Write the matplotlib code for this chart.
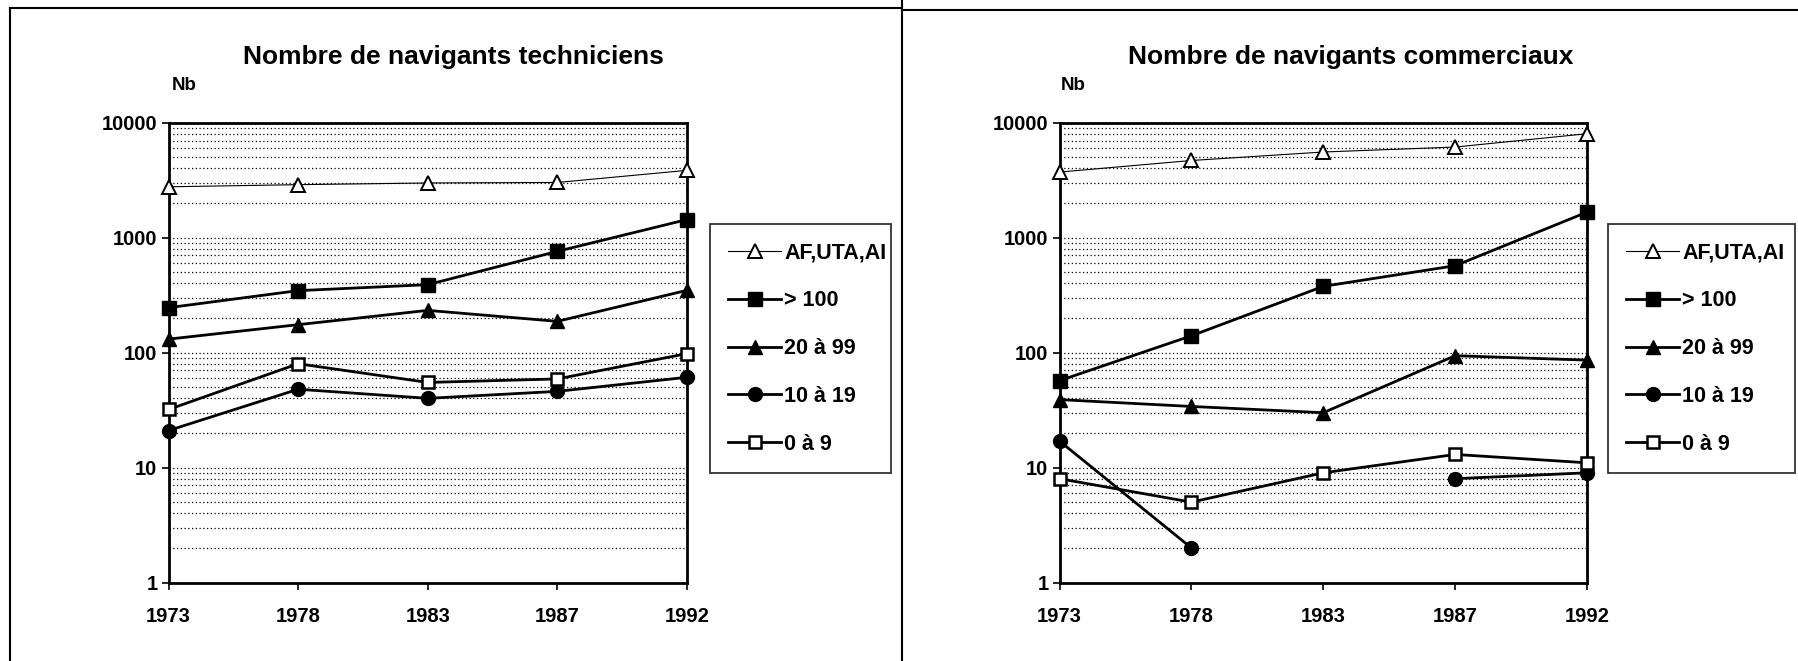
import numpy as np
import matplotlib
matplotlib.use("Agg")
import matplotlib.pyplot as plt
from matplotlib.ticker import FixedLocator, LogLocator, NullFormatter, FuncFormatter
from matplotlib.lines import Line2D

plt.rcParams['font.family'] = ['Liberation Sans', 'DejaVu Sans']
plt.rcParams['font.weight'] = 'bold'

years = ["1973", "1978", "1983", "1987", "1992"]
series_names = ["AF,UTA,AI", "> 100", "20 à 99", "10 à 19", "0 à 9"]
y_ticks = [1, 10, 100, 1000, 10000]

# Navigants techniciens
tech_af = [2770, 2890, 2990, 3020, 3850]
tech_100 = [246, 346, 390, 760, 1436]
tech_20_99 = [131, 175, 233, 187, 348]
tech_10_19 = [21, 48, 40, 46, 61]
tech_0_9 = [32, 80, 55, 59, 98]

# Navigants commerciaux
comm_af = [3720, 4690, 5560, 6140, 8020]
comm_100 = [57, 140, 377, 570, 1667]
comm_20_99 = [39, 34, 30, 94, 86]
comm_10_19 = [17, 2, np.nan, 8, 9]
comm_0_9 = [8, 5, 9, 13, 11]

W, H = 1798, 661
fig = plt.figure(figsize=(W / 100, H / 100), dpi=100)

styles = [
    dict(marker='^', markerfacecolor='white', markeredgecolor='black', markeredgewidth=1.4,
         markersize=10, linewidth=0.8, color='black'),
    dict(marker='s', markerfacecolor='black', markeredgecolor='black', markersize=10,
         linewidth=2.0, color='black'),
    dict(marker='^', markerfacecolor='black', markeredgecolor='black', markersize=10,
         linewidth=2.0, color='black'),
    dict(marker='o', markerfacecolor='black', markeredgecolor='black', markersize=10,
         linewidth=2.0, color='black'),
    dict(marker='s', markerfacecolor='white', markeredgecolor='black', markeredgewidth=1.8,
         markersize=9, linewidth=2.0, color='black'),
]


def px_box(x0, y0, x1, y1):
    return [x0 / W, 1 - y1 / H, (x1 - x0) / W, (y1 - y0) / H]


def panel(box, title, title_x, nb_x, data, legend_box):
    ax = fig.add_axes(px_box(*box))
    x = np.arange(len(years))
    lines = []
    for vals, st, name in zip(data, styles, series_names):
        ln, = ax.plot(x, vals, label=name, clip_on=False, zorder=3, **st)
        lines.append(ln)
    ax.set_yscale('log')
    ax.set_ylim(1, 10000)
    ax.set_xlim(0, len(years) - 1)
    ax.yaxis.set_major_locator(FixedLocator(y_ticks))
    ax.yaxis.set_major_formatter(FuncFormatter(lambda v, p: f"{int(round(v))}"))
    ax.yaxis.set_minor_locator(LogLocator(base=10, subs=np.arange(2, 10)))
    ax.yaxis.set_minor_formatter(NullFormatter())
    ax.set_xticks(x)
    ax.set_xticklabels(years)
    ax.tick_params(axis='both', which='major', direction='out', length=5, width=1.2,
                   labelsize=14.5, colors='black')
    ax.tick_params(axis='y', which='major', pad=3)
    ax.tick_params(axis='x', which='major', pad=13)
    ax.tick_params(axis='y', which='minor', length=0)
    for lab in ax.get_xticklabels() + ax.get_yticklabels():
        lab.set_fontweight('bold')
    ax.set_axisbelow(True)
    ax.yaxis.grid(True, which='both', linestyle=(0, (1, 2)), linewidth=0.9, color='black')
    for sp in ax.spines.values():
        sp.set_linewidth(2.0)
        sp.set_color('black')
    fig.text(title_x / W, 1 - 57 / H, title, ha='center', va='center',
             fontsize=19, fontweight='bold')
    fig.text(nb_x / W, 1 - 86 / H, "Nb", ha='left', va='center',
             fontsize=13.5, fontweight='bold')
    lx0, ly0, lx1, ly1 = legend_box
    leg = fig.legend(handles=lines, loc='upper left',
                     bbox_to_anchor=(lx0 / W, 1 - ly1 / H, (lx1 - lx0) / W, (ly1 - ly0) / H),
                     bbox_transform=fig.transFigure, mode='expand', borderaxespad=0,
                     fancybox=False, shadow=False, frameon=True, numpoints=1,
                     handlelength=2.45, handletextpad=0.15, labelspacing=1.25,
                     borderpad=0.85, prop=dict(size=15.5, weight='bold'))
    leg.get_frame().set_edgecolor('black')
    leg.get_frame().set_linewidth(1.3)
    return ax


panel((168.6, 122.7, 686.9, 582.5), "Nombre de navigants techniciens", 453, 172,
      [tech_af, tech_100, tech_20_99, tech_10_19, tech_0_9], (710, 224, 891, 473))
panel((1059.5, 122.7, 1587, 582.5), "Nombre de navigants commerciaux", 1351, 1061,
      [comm_af, comm_100, comm_20_99, comm_10_19, comm_0_9], (1608, 224, 1795, 473))

# page frame around the two panels
def fline(xs, ys, lw=1.5):
    fig.add_artist(Line2D([v / W for v in xs], [1 - v / H for v in ys],
                          transform=fig.transFigure, color='black', linewidth=lw))

fline([10, 10], [8, H])
fline([10, 902], [8, 8])
fline([902, 902], [0, H])
fline([902, W], [10, 10])

fig.savefig("out.png", dpi=100, facecolor='white')
